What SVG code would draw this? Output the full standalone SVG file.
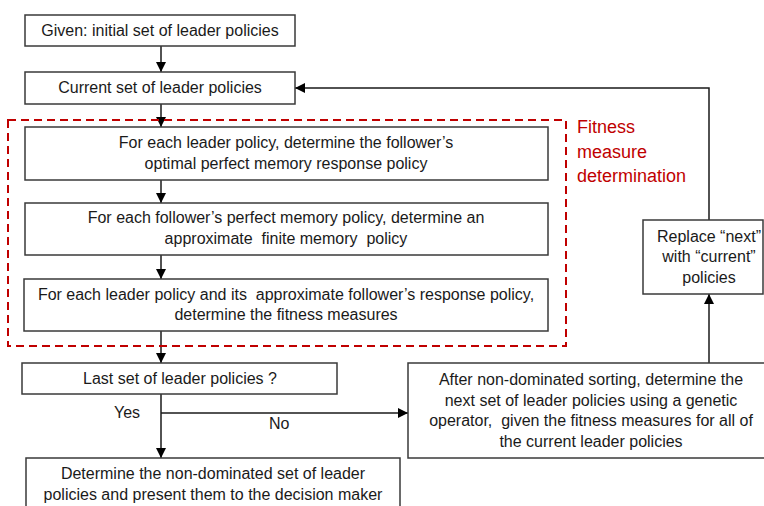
<svg xmlns="http://www.w3.org/2000/svg" width="764" height="506" viewBox="0 0 764 506">
<defs>
<style>
.box{fill:#fff;stroke:#3a3a3a;stroke-width:1.5}
.t{font-family:"Liberation Sans",Arial,sans-serif;font-size:16px;fill:#1a1a1a;text-anchor:middle;white-space:pre}
.tl{font-family:"Liberation Sans",Arial,sans-serif;font-size:16px;fill:#1a1a1a}
.c{fill:none;stroke:#1a1a1a;stroke-width:1.5}
.red{font-family:"Liberation Sans",Arial,sans-serif;font-size:18px;fill:#c00000}
</style>
<marker id="ah" markerWidth="10" markerHeight="10" viewBox="0 0 10 10" refX="10" refY="5" orient="auto" markerUnits="userSpaceOnUse">
<path d="M0,0 L10,5 L0,10 Z" fill="#000"/>
</marker>
</defs>
<rect width="764" height="506" fill="#fff"/>
<g id="connectors">
<line class="c" x1="161" y1="46" x2="161" y2="72" marker-end="url(#ah)"/>
<line class="c" x1="161" y1="104" x2="161" y2="127" marker-end="url(#ah)"/>
<line class="c" x1="161" y1="180" x2="161" y2="203" marker-end="url(#ah)"/>
<line class="c" x1="161" y1="255" x2="161" y2="279" marker-end="url(#ah)"/>
<line class="c" x1="161" y1="331" x2="161" y2="363" marker-end="url(#ah)"/>
<line class="c" x1="161" y1="394" x2="161" y2="458" marker-end="url(#ah)"/>
<polyline class="c" points="161,413 408,413" marker-end="url(#ah)"/>
<line class="c" x1="709" y1="363" x2="709" y2="294" marker-end="url(#ah)"/>
<polyline class="c" points="709,220 709,88 295,88" marker-end="url(#ah)"/>
<text class="tl" x="114" y="418">Yes</text>
<text class="tl" x="269" y="429">No</text>
</g>
<g id="given">
<rect class="box" x="25" y="15" width="270" height="31"/>
<text class="t" x="160" y="36">Given: initial set of leader policies</text>
</g>
<g id="current">
<rect class="box" x="25" y="72" width="270" height="32"/>
<text class="t" x="160" y="93">Current set of leader policies</text>
</g>
<g id="fitness-group">
<rect x="8" y="120" width="558" height="226" fill="none" stroke="#c00000" stroke-width="2" stroke-dasharray="8,5"/>
<text class="red"><tspan x="577" y="133">Fitness</tspan><tspan x="577" y="158">measure</tspan><tspan x="577" y="182">determination</tspan></text>
</g>
<g id="optimal">
<rect class="box" x="25" y="127" width="523" height="53"/>
<text class="t"><tspan x="286" y="148">For each leader policy, determine the follower’s</tspan><tspan x="286" y="169">optimal perfect memory response policy</tspan></text>
</g>
<g id="approx">
<rect class="box" x="25" y="203" width="523" height="52"/>
<text class="t" xml:space="preserve"><tspan x="286" y="223">For each follower’s perfect memory policy, determine an</tspan><tspan x="286" y="244">approximate  finite memory  policy</tspan></text>
</g>
<g id="measures">
<rect class="box" x="24" y="279" width="524" height="52"/>
<text class="t" xml:space="preserve"><tspan x="286" y="300">For each leader policy and its  approximate follower’s response policy,</tspan><tspan x="286" y="320">determine the fitness measures</tspan></text>
</g>
<g id="last">
<rect class="box" x="22" y="363" width="315" height="31"/>
<text class="t" x="180" y="384">Last set of leader policies ?</text>
</g>
<g id="final">
<rect class="box" x="26" y="458" width="374" height="60"/>
<text class="t"><tspan x="213" y="479">Determine the non-dominated set of leader</tspan><tspan x="213" y="500">policies and present them to the decision maker</tspan></text>
</g>
<g id="next">
<rect class="box" x="408" y="363" width="366" height="95"/>
<text class="t" xml:space="preserve"><tspan x="591" y="385">After non-dominated sorting, determine the</tspan><tspan x="591" y="406">next set of leader policies using a genetic</tspan><tspan x="591" y="426">operator,  given the fitness measures for all of</tspan><tspan x="591" y="447">the current leader policies</tspan></text>
</g>
<g id="replace">
<rect class="box" x="643" y="220" width="120" height="74"/>
<text class="t"><tspan x="709" y="242">Replace “next”</tspan><tspan x="709" y="262">with “current”</tspan><tspan x="709" y="283">policies</tspan></text>
</g>
</svg>
